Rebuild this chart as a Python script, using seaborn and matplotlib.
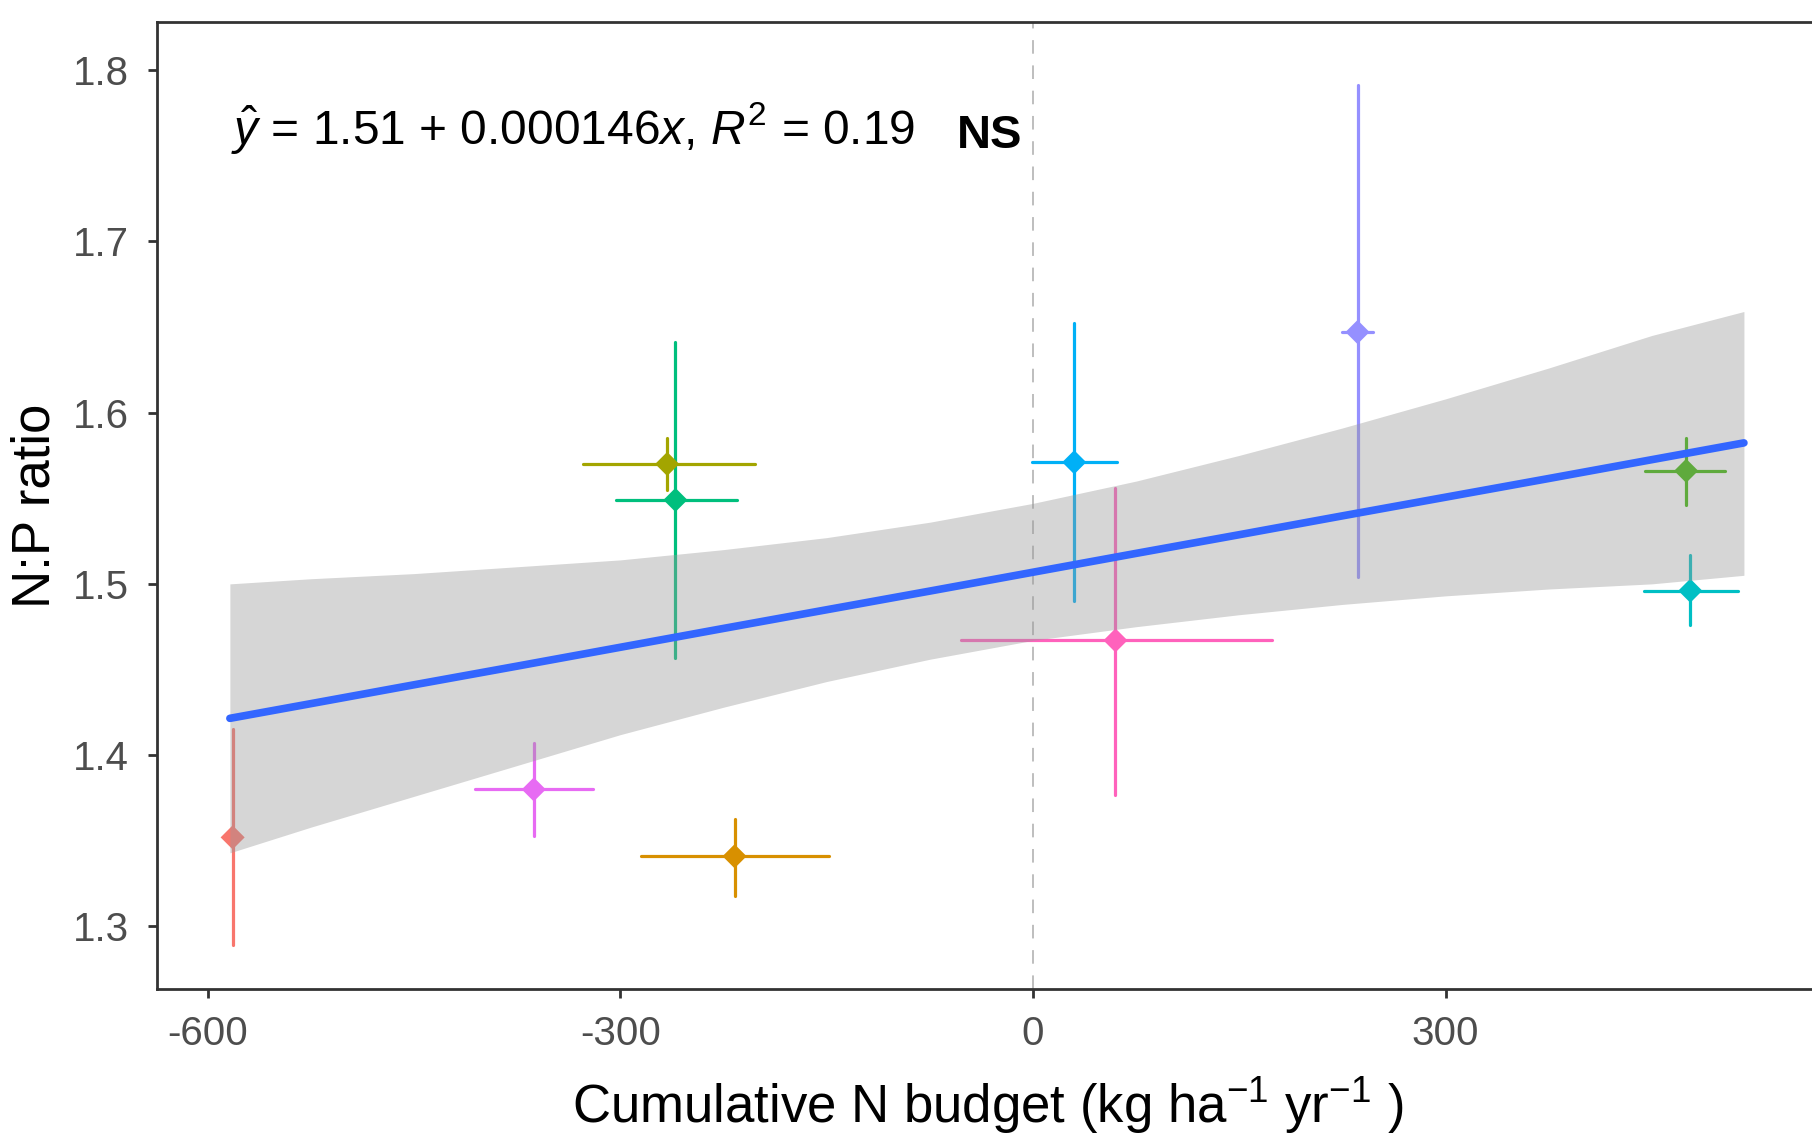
import numpy as np
import pandas as pd
import matplotlib
matplotlib.use("Agg")
import matplotlib.pyplot as plt
import seaborn as sns

# --- datos ---
sitios = ["S1", "S2", "S3", "S4", "S5", "S6", "S7", "S8", "S9", "S10"]
colores = ["#F8766D", "#A3A500", "#00BF7D", "#E76BF3", "#D89000",
           "#00B0F6", "#FF62BC", "#9590FF", "#39B600", "#00BFC4"]

n_budget = [-582, -266, -260, -363, -217, 30, 60, 236, 475, 478]
n_budget_lo = [-584, -327, -303, -406, -285, -1, -52, 225, 445, 444]
n_budget_hi = [-580, -202, -215, -320, -148, 61, 174, 247, 503, 513]

np_ratio = [1.352, 1.570, 1.549, 1.380, 1.341, 1.571, 1.467, 1.647, 1.566, 1.496]
np_ratio_lo = [1.289, 1.555, 1.457, 1.353, 1.318, 1.490, 1.377, 1.504, 1.546, 1.476]
np_ratio_hi = [1.415, 1.585, 1.641, 1.407, 1.363, 1.652, 1.556, 1.791, 1.585, 1.517]

# recta ajustada y banda de confianza
ajuste_x = [-584, -525, -450, -375, -300, -225, -150, -75, 0,
            75, 150, 225, 300, 375, 450, 517]
ajuste_y = [1.4215, 1.4301, 1.4411, 1.4520, 1.4630, 1.4740, 1.4849, 1.4958, 1.5068,
            1.5178, 1.5287, 1.5397, 1.5506, 1.5615, 1.5725, 1.5823]
banda_sup = [1.500, 1.503, 1.506, 1.510, 1.514, 1.520, 1.527, 1.536, 1.547,
             1.560, 1.575, 1.591, 1.608, 1.626, 1.645, 1.659]
banda_inf = [1.343, 1.358, 1.376, 1.394, 1.412, 1.428, 1.443, 1.456, 1.467,
             1.475, 1.482, 1.488, 1.493, 1.497, 1.500, 1.505]

ecuacion = r"$\hat{y}$ = 1.51 + 0.000146$x$, $R^2$ = 0.19"

df = pd.DataFrame({"sitio": sitios, "x": n_budget, "y": np_ratio,
                   "x_lo": n_budget_lo, "x_hi": n_budget_hi,
                   "y_lo": np_ratio_lo, "y_hi": np_ratio_hi})
df_fit = pd.DataFrame({"x": ajuste_x, "y": ajuste_y, "lo": banda_inf, "hi": banda_sup})

# --- estilo ---
sns.set_theme(style="white")
plt.rcParams["font.family"] = ["Liberation Sans", "DejaVu Sans"]
plt.rcParams["mathtext.fontset"] = "custom"
plt.rcParams["mathtext.rm"] = "Liberation Sans"
plt.rcParams["mathtext.it"] = "Liberation Sans:italic"
plt.rcParams["mathtext.bf"] = "Liberation Sans:bold"

fig = plt.figure(figsize=(18.12, 11.34), dpi=100)
ax = fig.add_axes([157 / 1812, 1 - 989 / 1134, (1819 - 157) / 1812, (989 - 22) / 1134])

ax.axvline(0, color="#BEBEBE", lw=1.4, ls=(0, (7, 6)), zorder=1)

# barras de error
for i, row in df.iterrows():
    ax.plot([row.x_lo, row.x_hi], [row.y, row.y], color=colores[i], lw=2.3, zorder=2)
    ax.plot([row.x, row.x], [row.y_lo, row.y_hi], color=colores[i], lw=2.3, zorder=2)

sns.scatterplot(data=df, x="x", y="y", hue="sitio", palette=colores, marker="D",
                s=150, linewidth=0, legend=False, ax=ax, zorder=3)

# banda + recta
ax.fill_between(df_fit["x"], df_fit["lo"], df_fit["hi"], color="#999999", alpha=0.4,
                linewidth=0, zorder=4)
sns.lineplot(data=df_fit, x="x", y="y", color="#3366FF", lw=5.5, ax=ax, zorder=5)

ax.text(-583, 1.7565, ecuacion, fontsize=34.5, va="baseline", ha="left", color="black")
ax.text(-55, 1.7545, "NS", fontsize=34, fontweight="bold", va="baseline", ha="left",
        color="black")

ax.set_xlim(-637, 571.6)
ax.set_ylim(1.2635, 1.828)
ax.set_xticks([-600, -300, 0, 300])
ax.set_xticklabels(["-600", "-300", "0", "300"])
ax.set_yticks([1.3, 1.4, 1.5, 1.6, 1.7, 1.8])

for s in ax.spines.values():
    s.set_color("#333333")
    s.set_linewidth(2.0)
ax.tick_params(axis="both", which="major", length=6.5, width=2.0, color="#333333",
               labelsize=29, labelcolor="#4D4D4D", bottom=True, left=True)
ax.tick_params(axis="x", pad=12)
ax.tick_params(axis="y", pad=14)

ax.set_xlabel(r"Cumulative N budget (kg ha$^{-1}$ yr$^{-1}$ )", fontsize=38, color="black")
ax.set_ylabel("N:P ratio", fontsize=38, color="black")
ax.xaxis.set_label_coords(0.5, -0.089)
ax.yaxis.set_label_coords(-0.058, 0.5)

fig.savefig("out.png", dpi=100)
